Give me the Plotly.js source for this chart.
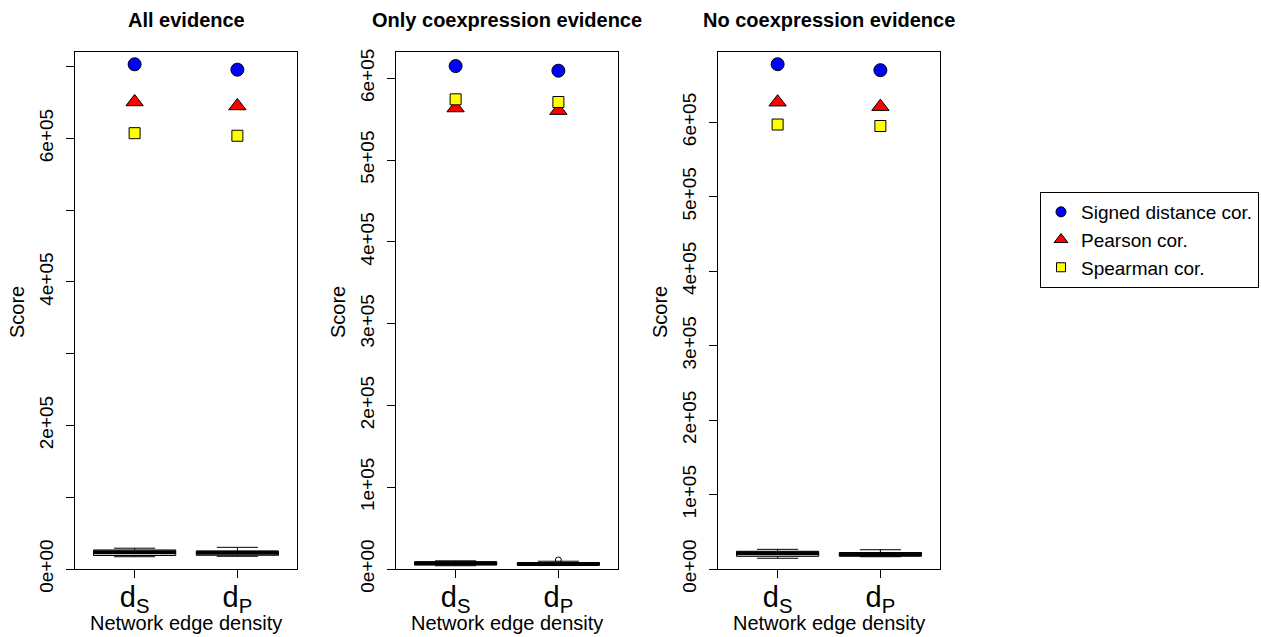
<!DOCTYPE html>
<html>
<head>
<meta charset="utf-8">
<script src="https://cdn.plot.ly/plotly-3.0.1.min.js"></script>
<style>html,body{margin:0;padding:0;background:#fff;}</style>
</head>
<body>
<div id="chart" style="width:1261px;height:637px;"></div>
<script>
// ---- data ----
const panelTitles = ["All evidence", "Only coexpression evidence", "No coexpression evidence"];
const categories = [1, 2];
const categoryLabels = ["d<sub>S</sub>", "d<sub>P</sub>"];
const seriesNames = ["Signed distance cor.", "Pearson cor.", "Spearman cor."];

// points per panel: [d_S, d_P]
const signedDist = [[703300, 695800], [614900, 609200], [678000, 670000]];
const pearson    = [[650800, 645200], [563600, 560400], [627000, 621000]];
const spearman   = [[607300, 603700], [574200, 570900], [597000, 595000]];

// box statistics per panel: [d_S, d_P]
const boxLower  = [[17100, 17700], [4000, 4200], [14400, 16500]];
const boxQ1     = [[18800, 19100], [4900, 5000], [17000, 17000]];
const boxMedian = [[23300, 22700], [7000, 6100], [21100, 20100]];
const boxQ3     = [[26500, 25100], [8900, 7800], [23800, 21900]];
const boxUpper  = [[29000, 30200], [10000, 9500], [26400, 25900]];
const outlierX  = [[], [2], []];
const outlierY  = [[], [11000], []];

// y axis ranges and ticks per panel
const yMax = [720000, 631700, 694000];
const yTickVals = [
  [0,200000,400000,600000],
  [0,100000,200000,300000,400000,500000,600000],
  [0,100000,200000,300000,400000,500000,600000]
];
const yTickText = [
  ["0e+00","2e+05","4e+05","6e+05"],
  ["0e+00","1e+05","2e+05","3e+05","4e+05","5e+05","6e+05"],
  ["0e+00","1e+05","2e+05","3e+05","4e+05","5e+05","6e+05"]
];
const yMinorStep = 100000;

// ---- layout geometry (pixels) ----
const W = 1261, H = 637;
const boxLeft = [75, 396, 718];
const boxWidth = 222;
const plotTop = 52.3, plotBottom = 569;
const FONT = "Liberation Sans, Arial, Helvetica, sans-serif";

const traces = [];
const layout = {
  width: W, height: H,
  margin: {l: 0, r: 0, t: 0, b: 0, pad: 0},
  paper_bgcolor: "#fff", plot_bgcolor: "#fff",
  showlegend: true,
  font: {family: FONT, color: "#000"},
  legend: {
    x: 1040 / W, y: 1 - 192 / H, xanchor: "left", yanchor: "top",
    bordercolor: "#000", borderwidth: 1, bgcolor: "#fff",
    font: {family: FONT, size: 19, color: "#000"},
    tracegroupgap: 0, traceorder: "grouped",
    itemwidth: 30
  },
  annotations: []
};

const markerDefs = [
  {data: signedDist, symbol: "circle", color: "#0000FF", size: 13, legSize: 10},
  {data: pearson, symbol: "triangle-up", color: "#FF0000", size: 15, legSize: 12},
  {data: spearman, symbol: "square", color: "#FFFF00", size: 11, legSize: 9}
];

for (let p = 0; p < 3; p++) {
  const ax = p === 0 ? "" : String(p + 1);
  const xa = "x" + ax, ya = "y" + ax;
  const x0 = boxLeft[p] / W, x1 = (boxLeft[p] + boxWidth) / W;
  layout["xaxis" + ax] = {
    domain: [x0, x1], anchor: ya, range: [0.42, 2.58],
    tickvals: categories, ticktext: categoryLabels,
    tickfont: {family: FONT, size: 29, color: "#000"},
    ticks: "outside", ticklen: 8, tickcolor: "#000", tickwidth: 1,
    ticklabelstandoff: -6,
    showline: true, mirror: true, linecolor: "#000", linewidth: 1,
    showgrid: false, zeroline: false, fixedrange: true
  };
  layout["yaxis" + ax] = {
    domain: [1 - plotBottom / H, 1 - plotTop / H], anchor: xa,
    range: [0, yMax[p]],
    tickvals: yTickVals[p], ticktext: yTickText[p], tickangle: -90,
    tickfont: {family: FONT, size: 19, color: "#000"},
    ticks: "outside", ticklen: 8, tickcolor: "#000", tickwidth: 1,
    ticklabelstandoff: 5,
    minor: {ticks: "outside", ticklen: 8, tickcolor: "#000", tickwidth: 1, dtick: yMinorStep, tick0: 0, showgrid: false},
    showline: true, mirror: true, linecolor: "#000", linewidth: 1,
    showgrid: false, zeroline: false, fixedrange: true
  };

  // boxes
  traces.push({
    type: "box", xaxis: xa, yaxis: ya, x: categories,
    q1: boxQ1[p], median: boxMedian[p], q3: boxQ3[p],
    lowerfence: boxLower[p], upperfence: boxUpper[p],
    width: 0.8, whiskerwidth: 0.5,
    line: {color: "#000", width: 1}, fillcolor: "#fff",
    boxpoints: false, showlegend: false, hoverinfo: "skip"
  });
  // thick medians
  for (let i = 0; i < categories.length; i++) {
    traces.push({
      type: "scatter", mode: "lines", xaxis: xa, yaxis: ya,
      x: [categories[i] - 0.4, categories[i] + 0.4],
      y: [boxMedian[p][i], boxMedian[p][i]],
      line: {color: "#000", width: 4}, showlegend: false, hoverinfo: "skip"
    });
  }
  if (outlierX[p].length) {
    traces.push({
      type: "scatter", mode: "markers", xaxis: xa, yaxis: ya,
      x: outlierX[p], y: outlierY[p],
      marker: {symbol: "circle-open", size: 6, color: "#000", line: {width: 1}},
      showlegend: false, hoverinfo: "skip"
    });
  }
  // score markers
  markerDefs.forEach((m, k) => {
    traces.push({
      type: "scatter", mode: "markers", xaxis: xa, yaxis: ya,
      x: categories, y: m.data[p], name: seriesNames[k],
      marker: {symbol: m.symbol, size: m.size, color: m.color, line: {color: "#000", width: 1}},
      showlegend: false
    });
  });

  const cx = (boxLeft[p] + boxWidth / 2) / W;
  layout.annotations.push({
    xref: "paper", yref: "paper", x: cx, y: 1 - 20 / H, xanchor: "center", yanchor: "middle",
    text: "<b>" + panelTitles[p] + "</b>", showarrow: false,
    font: {family: FONT, size: 20, color: "#000"}
  });
  layout.annotations.push({
    xref: "paper", yref: "paper", x: cx, y: 1 - 623 / H, xanchor: "center", yanchor: "middle",
    text: "Network edge density", showarrow: false,
    font: {family: FONT, size: 20, color: "#000"}
  });
  layout.annotations.push({
    xref: "paper", yref: "paper", x: (boxLeft[p] - 58) / W, y: 1 - 312 / H, xanchor: "center", yanchor: "middle",
    text: "Score", textangle: -90, showarrow: false,
    font: {family: FONT, size: 20, color: "#000"}
  });
}

// legend-only entries
markerDefs.forEach((m, k) => {
  traces.push({
    type: "scatter", mode: "markers", x: [null], y: [null],
    name: seriesNames[k], legendgroup: "g" + k,
    marker: {symbol: m.symbol, size: m.legSize, color: m.color, line: {color: "#000", width: 1}},
    showlegend: true
  });
});

Plotly.newPlot("chart", traces, layout, {displayModeBar: false, staticPlot: true});
</script>
</body>
</html>
